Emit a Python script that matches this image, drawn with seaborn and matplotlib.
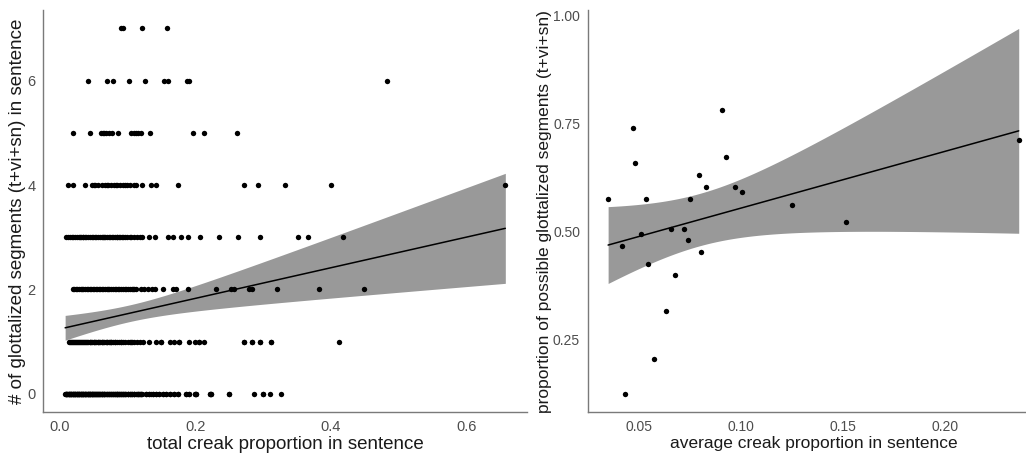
#!/usr/bin/env python3
# coding=utf-8
from matplotlib import pyplot as plt
import seaborn as sns
import numpy as np

# ---- left panel: one sentence per point, grouped by # of glottalized segments
# (dense runs hide overlapping points, so some values appear twice)
level0 = [0.008, 0.009, 0.009, 0.010, 0.011, 0.011, 0.012, 0.013, 0.013, 0.014,
          0.015, 0.015, 0.016, 0.017, 0.017, 0.018, 0.019, 0.019, 0.020, 0.021,
          0.021, 0.022, 0.023, 0.023, 0.024, 0.025, 0.025, 0.026, 0.027, 0.027,
          0.028, 0.029, 0.029, 0.030, 0.031, 0.031, 0.032, 0.033, 0.033, 0.034,
          0.035, 0.035, 0.036, 0.037, 0.037, 0.038, 0.039, 0.039, 0.040, 0.041,
          0.041, 0.042, 0.043, 0.043, 0.044, 0.045, 0.045, 0.046, 0.047, 0.047,
          0.048, 0.049, 0.049, 0.050, 0.051, 0.052, 0.052, 0.053, 0.054, 0.055,
          0.055, 0.056, 0.057, 0.058, 0.058, 0.059, 0.060, 0.061, 0.062, 0.062,
          0.063, 0.064, 0.065, 0.066, 0.066, 0.067, 0.068, 0.069, 0.070, 0.071,
          0.072, 0.073, 0.074, 0.075, 0.076, 0.077, 0.078, 0.079, 0.080, 0.081,
          0.082, 0.083, 0.084, 0.085, 0.086, 0.087, 0.088, 0.089, 0.090, 0.092,
          0.093, 0.094, 0.096, 0.097, 0.098, 0.100, 0.101, 0.103, 0.104, 0.106,
          0.107, 0.109, 0.110, 0.112, 0.114, 0.115, 0.117, 0.119, 0.120, 0.122,
          0.085, 0.090, 0.095, 0.100, 0.105, 0.110, 0.115, 0.120,
          0.127, 0.131, 0.134, 0.138, 0.142, 0.147, 0.152, 0.157, 0.163, 0.168,
          0.174, 0.186, 0.191, 0.199, 0.201, 0.221, 0.223, 0.250, 0.286, 0.300,
          0.310, 0.327,
          0.127, 0.131, 0.138, 0.142, 0.147, 0.152, 0.157, 0.163, 0.168,
          0.174, 0.186, 0.191, 0.199, 0.201, 0.221, 0.223, 0.250, 0.300]
level1 = [0.014, 0.016, 0.018, 0.020, 0.022, 0.024, 0.026, 0.028, 0.030, 0.032,
          0.034, 0.036, 0.038, 0.040, 0.042, 0.044, 0.046, 0.048, 0.050, 0.052,
          0.054, 0.056, 0.058, 0.060, 0.062, 0.064, 0.066, 0.068, 0.070, 0.072,
          0.074, 0.076, 0.079, 0.082, 0.085, 0.088, 0.091, 0.094, 0.097, 0.100,
          0.103, 0.106, 0.110, 0.114, 0.118, 0.123,
          0.015, 0.021, 0.027, 0.033, 0.039, 0.045, 0.051, 0.057, 0.063, 0.069,
          0.075, 0.081, 0.090, 0.105,
          0.132, 0.142, 0.150, 0.162, 0.169, 0.176, 0.191, 0.199, 0.206, 0.213,
          0.272, 0.284, 0.296, 0.311, 0.412,
          0.150, 0.176, 0.206, 0.272, 0.284, 0.296, 0.311]
level2 = [0.019, 0.024, 0.028, 0.033, 0.037, 0.042, 0.046, 0.051, 0.055, 0.060,
          0.064, 0.069, 0.073, 0.078, 0.083, 0.088, 0.093, 0.098, 0.103, 0.108,
          0.112,
          0.021, 0.026, 0.031, 0.035, 0.040, 0.044, 0.049, 0.053, 0.058, 0.062,
          0.067, 0.071, 0.076, 0.081, 0.086, 0.091, 0.096, 0.101, 0.106, 0.110,
          0.120, 0.125, 0.130, 0.136, 0.141, 0.152, 0.167, 0.172, 0.189,
          0.230, 0.252, 0.257, 0.279, 0.284, 0.321, 0.383, 0.449]
level3 = [0.010, 0.015, 0.020, 0.025, 0.030, 0.034, 0.039, 0.044, 0.049, 0.054,
          0.059, 0.064, 0.069, 0.074, 0.079, 0.084, 0.089, 0.094, 0.099, 0.104,
          0.109, 0.114, 0.118, 0.122,
          0.012, 0.018, 0.023, 0.028, 0.032, 0.037, 0.042, 0.047, 0.052, 0.057,
          0.062, 0.067, 0.072, 0.077, 0.082, 0.087, 0.092, 0.097,
          0.035, 0.065, 0.085, 0.105,
          0.132, 0.140, 0.159, 0.167, 0.179, 0.189,
          0.207, 0.235, 0.263, 0.296, 0.351, 0.366, 0.417]
level4 = [0.012, 0.020, 0.037, 0.047, 0.050, 0.052, 0.057, 0.062, 0.067, 0.069,
          0.071, 0.075, 0.080, 0.083, 0.085, 0.089, 0.094, 0.097, 0.099, 0.104,
          0.109, 0.113, 0.122, 0.135, 0.142, 0.174,
          0.272, 0.293, 0.332, 0.400, 0.657]
level5 = [0.019, 0.045, 0.061, 0.064, 0.066, 0.068, 0.072, 0.077, 0.086, 0.105,
          0.110, 0.112, 0.115, 0.120, 0.133, 0.196, 0.213, 0.261]
level6 = [0.041, 0.070, 0.079, 0.102, 0.126, 0.154, 0.159, 0.187, 0.190, 0.482]
level7 = [0.090, 0.093, 0.121, 0.158]

# ---- right panel: one point per speaker
avg_creak = [0.035, 0.042, 0.0435, 0.047, 0.048, 0.051, 0.0534, 0.0544, 0.0573,
             0.0632, 0.0658, 0.0676, 0.072, 0.074, 0.0753, 0.0797, 0.0807,
             0.0828, 0.0906, 0.0929, 0.097, 0.1004, 0.1248, 0.1516, 0.236]
prop_glott = [0.574, 0.466, 0.123, 0.739, 0.658, 0.493, 0.574, 0.425, 0.204,
              0.315, 0.506, 0.398, 0.506, 0.479, 0.574, 0.630, 0.451, 0.603,
              0.781, 0.671, 0.603, 0.590, 0.561, 0.522, 0.712]

left_xticks = [0.0, 0.2, 0.4, 0.6]
left_yticks = [0, 2, 4, 6]
right_xticks = [0.05, 0.10, 0.15, 0.20]
right_yticks = [0.25, 0.50, 0.75, 1.00]

AXIS_GREY = '#7a7a7a'
TICK_TEXT = '#4d4d4d'
BAND = '#999999'


def t_quantile(df: int) -> float:
    # 97.5% quantile of Student t, Cornish-Fisher expansion (no scipy here)
    z = 1.959964
    return (z + (z ** 3 + z) / (4 * df)
            + (5 * z ** 5 + 16 * z ** 3 + 3 * z) / (96 * df ** 2))


def ci_band(x: np.ndarray, y: np.ndarray, n_grid: int = 100):
    # analytic 95% confidence band of a linear fit (like geom_smooth(method=lm))
    n = len(x)
    slope, intercept = np.polyfit(x, y, 1)
    resid = y - (intercept + slope * x)
    s = np.sqrt(np.sum(resid ** 2) / (n - 2))
    grid = np.linspace(x.min(), x.max(), n_grid)
    se = s * np.sqrt(1 / n + (grid - x.mean()) ** 2 / np.sum((x - x.mean()) ** 2))
    fit = intercept + slope * grid
    half = t_quantile(n - 2) * se
    return grid, fit - half, fit + half


def style_axes(ax, tick_size: float):
    sns.despine(ax=ax)
    for side in ['left', 'bottom']:
        ax.spines[side].set_color(AXIS_GREY)
        ax.spines[side].set_linewidth(1.0)
    ax.tick_params(axis='both', colors=AXIS_GREY, labelcolor=TICK_TEXT,
                   labelsize=tick_size, length=3.5, width=1.0, pad=2)


def plot_panel(ax, x, y, xlabel: str, ylabel: str, label_size: float):
    x = np.asarray(x, dtype=float)
    y = np.asarray(y, dtype=float)

    gx, lo, hi = ci_band(x, y)
    ax.fill_between(gx, lo, hi, color=BAND, linewidth=0, zorder=0.5)

    sns.regplot(x=x, y=y, ax=ax, ci=None, truncate=True,
                scatter_kws=dict(s=15, color='black', linewidths=0, alpha=1,
                                 zorder=3),
                line_kws=dict(color='black', linewidth=1.1, zorder=2))

    ax.set_xlabel(xlabel, fontsize=label_size, color='#1a1a1a', labelpad=2)
    ax.set_ylabel(ylabel, fontsize=label_size, color='#1a1a1a', labelpad=1)


if __name__ == "__main__":
    sns.set_theme(style='white')
    plt.rcParams['font.family'] = ['Liberation Sans', 'DejaVu Sans']

    fig = plt.figure(figsize=(10.26, 4.53), dpi=100)
    ax1 = fig.add_axes([0.042, 0.0905, 0.472, 0.887])
    ax2 = fig.add_axes([0.5728, 0.0905, 0.44, 0.887])

    # left panel: stack the levels into x / y columns
    levels = [level0, level1, level2, level3, level4, level5, level6, level7]
    total_creak = [v for lvl in levels for v in lvl]
    n_glott = [i for i, lvl in enumerate(levels) for _ in lvl]

    plot_panel(ax1, total_creak, n_glott,
               'total creak proportion in sentence',
               '# of glottalized segments (t+vi+sn) in sentence', 13.5)
    ax1.set_xlim(-0.0245, 0.6895)
    ax1.set_ylim(-0.35, 7.35)
    ax1.set_xticks(left_xticks)
    ax1.set_xticklabels([f'{v:.1f}' for v in left_xticks])
    ax1.set_yticks(left_yticks)
    style_axes(ax1, 10.5)

    plot_panel(ax2, avg_creak, prop_glott,
               'average creak proportion in sentence',
               'proportion of possible glottalized segments (t+vi+sn)', 12.5)
    ax2.set_xlim(0.025, 0.246)
    ax2.set_ylim(0.081, 1.012)
    ax2.set_xticks(right_xticks)
    ax2.set_xticklabels([f'{v:.2f}' for v in right_xticks])
    ax2.set_yticks(right_yticks)
    ax2.set_yticklabels([f'{v:.2f}' for v in right_yticks])
    style_axes(ax2, 10)

    plt.savefig('out.png', dpi=100)
